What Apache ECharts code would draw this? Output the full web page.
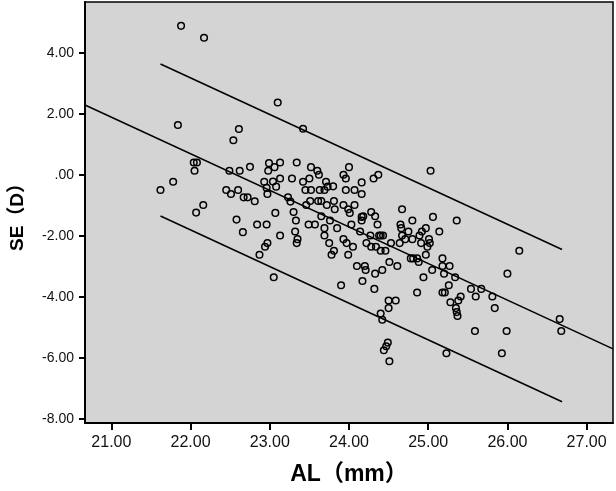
<!DOCTYPE html>
<html>
<head>
<meta charset="utf-8">
<script src="https://cdn.jsdelivr.net/npm/echarts@6/dist/echarts.min.js"></script>
<style>
html,body{margin:0;padding:0;background:#fff;}
#chart{width:616px;height:491px;}
</style>
</head>
<body>
<div id="chart"></div>
<script>
// AL (mm) values of each eye
var alValues = [
21.88,22.17,23.10,21.84,22.61,23.42,22.54,21.62,21.78,22.04,
22.08,22.05,22.07,22.16,22.49,22.62,22.75,22.45,22.51,22.60,
22.67,22.72,22.81,22.58,22.66,22.84,22.87,22.96,22.94,22.97,
23.05,23.07,23.13,22.93,22.96,22.97,22.99,22.98,23.06,23.04,
23.08,23.13,23.13,23.28,23.34,23.23,23.26,23.30,23.33,23.32,
23.35,23.34,23.42,23.45,23.50,23.52,23.60,23.52,23.46,23.51,
23.49,23.57,23.62,23.63,23.61,23.65,23.65,23.69,23.71,23.73,
23.72,23.69,23.69,23.75,23.78,23.81,23.76,23.80,23.81,23.82,
23.85,23.90,23.93,23.96,23.96,23.93,23.99,24.01,23.93,23.97,
23.99,24.00,24.03,24.05,24.07,24.07,24.10,24.14,24.16,24.16,
24.16,24.16,24.18,24.17,24.20,24.21,24.22,24.27,24.28,24.28,
24.31,24.33,24.33,24.32,24.36,24.34,24.37,24.38,24.40,24.42,
24.43,24.40,24.46,24.40,24.42,24.49,24.47,24.44,24.51,24.50,
24.50,24.51,24.53,24.59,24.61,24.64,24.67,24.65,24.66,24.67,
24.71,24.75,24.78,24.80,24.80,24.81,24.86,24.86,24.89,24.88,
24.91,24.92,24.94,24.97,24.97,24.99,25.01,25.02,25.03,25.05,
25.06,25.14,25.18,25.18,25.20,25.18,25.21,25.23,25.27,25.26,
25.28,25.34,25.36,25.35,25.36,25.37,25.38,25.41,25.54,25.60,
25.59,25.67,25.81,25.84,25.93,25.99,26.00,26.15,26.66,26.68
];
// SE (D) values of each eye
var seValues = [
4.88,4.49,2.37,1.63,1.50,1.51,1.13,-0.50,-0.23,0.40,
0.40,0.13,-1.24,-0.99,0.13,0.13,0.26,-0.50,-0.63,-0.50,
-0.74,-0.74,-0.87,-1.47,-1.88,-1.63,-2.62,-1.63,-2.36,-2.24,
-3.36,-1.25,-1.99,-0.23,-0.43,-0.63,0.38,0.13,0.25,-0.22,
-0.39,0.40,-0.12,-0.12,0.40,-0.74,-0.88,-1.22,-1.50,-1.86,
-2.11,-2.24,-0.23,-0.50,-0.12,0.25,0.13,-0.50,-0.99,-0.86,
-1.63,-1.63,0.00,-0.50,-0.86,-0.86,-1.36,-0.50,-0.23,-0.39,
-0.99,-1.75,-1.99,-2.24,-2.62,-2.49,-1.50,-0.38,-0.86,-1.13,
-1.75,-3.62,0.00,-0.12,-0.50,-0.99,-1.13,-1.25,-2.11,-2.24,
-2.62,0.25,-1.63,-2.36,-0.50,-0.99,-2.99,-1.86,-0.25,-0.63,
-1.38,-1.50,-1.36,-3.48,-2.99,-3.12,-2.24,-1.99,-1.22,-2.36,
-0.12,-1.36,-3.24,-3.74,-1.63,-2.36,0.00,-1.99,-1.99,-3.12,
-1.99,-2.49,-2.49,-4.55,-4.75,-5.50,-5.62,-5.75,-6.11,-4.12,
-4.37,-2.86,-2.24,-4.12,-2.99,-2.24,-1.13,-1.63,-1.75,-1.99,
-2.11,-1.86,-2.74,-1.50,-2.11,-2.74,-3.86,-2.74,-1.99,-2.86,
-2.24,-1.86,-3.36,-1.75,-2.62,-2.36,-2.11,-2.24,0.13,-3.12,
-1.38,-1.86,-2.74,-2.99,-3.24,-3.86,-3.86,-5.85,-2.99,-3.62,
-4.18,-3.36,-1.50,-4.37,-4.50,-4.63,-4.12,-3.99,-3.74,-3.99,
-5.12,-3.74,-3.99,-4.37,-5.85,-5.12,-3.24,-2.49,-4.73,-5.12
];
// fitted regression line and its prediction bounds (end points)
var fitLineAL = [20.667, 27.333];
var fitLineSE = [2.286, -5.706];
var upperLineAL = [21.62, 26.69];
var upperLineSE = [3.63, -2.45];
var lowerLineAL = [21.62, 26.69];
var lowerLineSE = [-1.35, -7.44];
// tick labels
var xTicks = [21, 22, 23, 24, 25, 26, 27];
var yTicks = [-8, -6, -4, -2, 0, 2, 4];

function pairs(a, b) { return a.map(function (v, i) { return [v, b[i]]; }); }

var font = '"Liberation Sans", Arial, "Noto Sans CJK SC", sans-serif';
var chart = echarts.init(document.getElementById('chart'), null, {renderer: 'canvas'});
var lineStyle = {color: '#000', width: 1.5};
chart.setOption({
  animation: false,
  backgroundColor: '#ffffff',
  grid: {
    left: 79, right: 3, top: 2, bottom: 65,
    show: true, backgroundColor: '#d4d4d4', borderColor: '#000', borderWidth: 1.5
  },
  xAxis: {
    type: 'value', min: 20.667, max: 27.333,
    name: 'AL（mm）', nameLocation: 'middle', nameGap: 40,
    nameTextStyle: {fontFamily: font, fontSize: 23, fontWeight: 'bold', color: '#000'},
    axisLine: {onZero: false, lineStyle: {color: '#000', width: 2}},
    axisTick: {show: true, length: 7, lineStyle: {color: '#000', width: 2}, customValues: xTicks},
    axisLabel: {margin: 12, fontFamily: font, fontSize: 16, color: '#111', customValues: xTicks,
      formatter: function (v) { return v.toFixed(2); }},
    splitLine: {show: false}
  },
  yAxis: {
    type: 'value', min: -8.135, max: 5.662,
    name: 'SE（D）', nameLocation: 'middle', nameGap: 58, nameRotate: 90,
    nameTextStyle: {fontFamily: font, fontSize: 19, fontWeight: 'bold', color: '#000'},
    axisLine: {onZero: false, lineStyle: {color: '#000', width: 2}},
    axisTick: {show: true, length: 6, lineStyle: {color: '#000', width: 2}, customValues: yTicks},
    axisLabel: {margin: 11, fontFamily: font, fontSize: 14, color: '#111', customValues: yTicks,
      formatter: function (v) { return v === 0 ? '.00' : v.toFixed(2); }},
    splitLine: {show: false}
  },
  series: [
    {type: 'line', data: pairs(fitLineAL, fitLineSE), symbol: 'none', silent: true, lineStyle: lineStyle, z: 2},
    {type: 'line', data: pairs(upperLineAL, upperLineSE), symbol: 'none', silent: true, lineStyle: lineStyle, z: 2},
    {type: 'line', data: pairs(lowerLineAL, lowerLineSE), symbol: 'none', silent: true, lineStyle: lineStyle, z: 2},
    {type: 'scatter', data: pairs(alValues, seValues), symbol: 'circle', symbolSize: 6.6,
      itemStyle: {color: 'rgba(0,0,0,0)', borderColor: '#000', borderWidth: 1.5, opacity: 1}, z: 3}
  ]
});
</script>
</body>
</html>
